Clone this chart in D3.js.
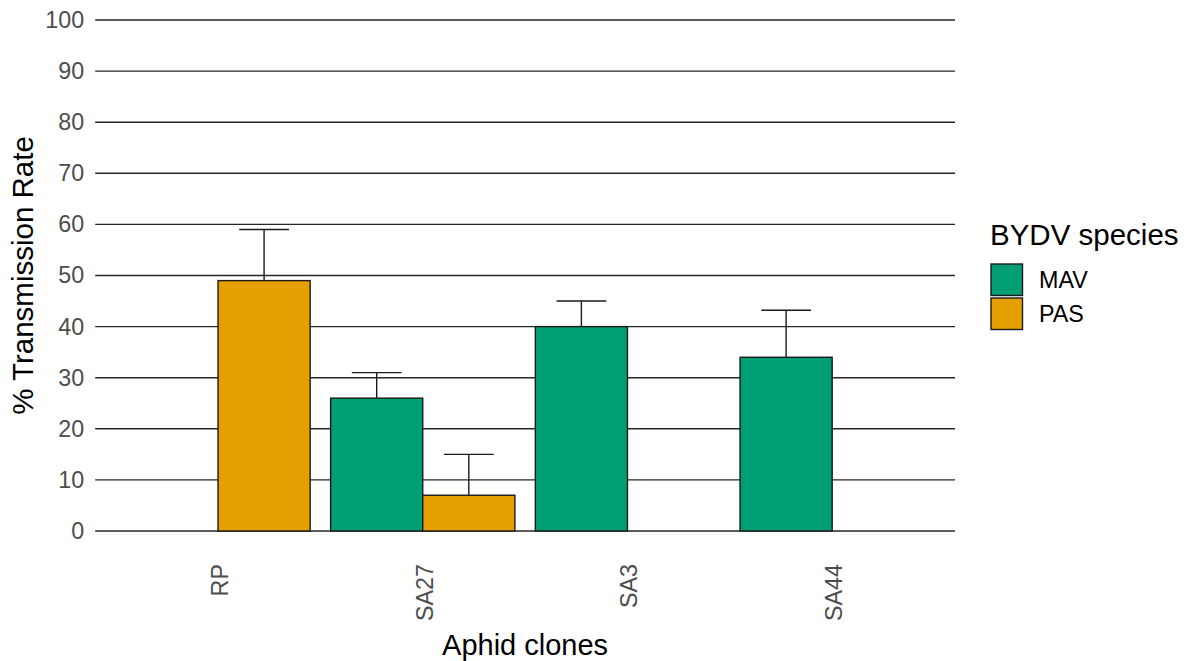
<!DOCTYPE html>
<html>
<head>
<meta charset="utf-8">
<script src="https://cdn.jsdelivr.net/npm/d3@7"></script>
<style>
  html, body { margin: 0; padding: 0; background: #ffffff; }
  svg { display: block; font-family: "Liberation Sans", Arial, sans-serif; }
</style>
</head>
<body>
<svg id="chart" width="1189" height="661"></svg>
<script>
// Aphid clones on the x axis, BYDV species as the dodged groups
const clones = ["RP", "SA27", "SA3", "SA44"];
const species = ["MAV", "PAS"];
const speciesColors = ["#009E73", "#E69F00"];

// mean transmission rate (%) and standard error per clone; null = not tested
const mavRate = [null, 26, 40, 34];
const mavSE   = [null, 5, 5, 9.2];
const pasRate = [49, 7, null, null];
const pasSE   = [10, 8, null, null];

const yTicks = [0, 10, 20, 30, 40, 50, 60, 70, 80, 90, 100];

const rows = [];
clones.forEach((c, i) => {
  if (mavRate[i] != null) rows.push({ clone: c, species: "MAV", rate: mavRate[i], se: mavSE[i] });
  if (pasRate[i] != null) rows.push({ clone: c, species: "PAS", rate: pasRate[i], se: pasSE[i] });
});

const svg = d3.select("#chart");
const panel = { left: 95.2, right: 955, top: 20, bottom: 531 };

const x = d3.scaleBand()
  .domain(clones)
  .range([panel.left, panel.right])
  .paddingInner(0.1)
  .paddingOuter(0.15);

const xSub = d3.scaleBand()
  .domain(species)
  .range([0, x.bandwidth()]);

const y = d3.scaleLinear()
  .domain([0, 100])
  .range([panel.bottom, panel.top]);

const color = d3.scaleOrdinal().domain(species).range(speciesColors);

// horizontal grid lines
svg.append("g")
  .selectAll("line")
  .data(yTicks)
  .join("line")
  .attr("x1", panel.left)
  .attr("x2", panel.right)
  .attr("y1", d => y(d))
  .attr("y2", d => y(d))
  .attr("stroke", "#262626")
  .attr("stroke-width", 1.4);

// y axis labels
const yAxis = d3.axisLeft(y).tickValues(yTicks).tickSize(0).tickPadding(11);
const gy = svg.append("g")
  .attr("transform", `translate(${panel.left},0)`)
  .call(yAxis);
gy.select(".domain").remove();
gy.selectAll("text")
  .attr("fill", "#4D4D4D")
  .style("font-size", "23.3px")
  .style("font-family", "'Liberation Sans', Arial, sans-serif");

// x axis labels, rotated
const xAxis = d3.axisBottom(x).tickSize(0).tickPadding(0);
const gx = svg.append("g")
  .attr("transform", `translate(0,${panel.bottom})`)
  .call(xAxis);
gx.select(".domain").remove();
gx.selectAll("text")
  .attr("fill", "#4D4D4D")
  .style("font-size", "23.3px")
  .style("font-family", "'Liberation Sans', Arial, sans-serif")
  .attr("text-anchor", "end")
  .attr("y", 0)
  .attr("dy", "0.42em")
  .attr("transform", "translate(0,33) rotate(-90)");

// error bars (upper whisker only, drawn underneath the bars)
const capW = x.bandwidth() * 0.135;
const eb = svg.append("g")
  .selectAll("g")
  .data(rows)
  .join("g")
  .attr("transform", d => `translate(${x(d.clone) + xSub(d.species) + xSub.bandwidth() / 2},0)`);
eb.append("line")
  .attr("x1", 0).attr("x2", 0)
  .attr("y1", d => y(d.rate))
  .attr("y2", d => y(d.rate + d.se))
  .attr("stroke", "#1a1a1a")
  .attr("stroke-width", 1.4);
eb.append("line")
  .attr("x1", -capW).attr("x2", capW)
  .attr("y1", d => y(d.rate + d.se))
  .attr("y2", d => y(d.rate + d.se))
  .attr("stroke", "#1a1a1a")
  .attr("stroke-width", 1.4);

// bars
svg.append("g")
  .selectAll("rect")
  .data(rows)
  .join("rect")
  .attr("x", d => x(d.clone) + xSub(d.species))
  .attr("width", xSub.bandwidth())
  .attr("y", d => y(d.rate))
  .attr("height", d => y(0) - y(d.rate))
  .attr("fill", d => color(d.species))
  .attr("stroke", "#1a1a1a")
  .attr("stroke-width", 1.4);

// axis titles
svg.append("text")
  .attr("x", (panel.left + panel.right) / 2)
  .attr("y", 655)
  .attr("text-anchor", "middle")
  .attr("fill", "#000")
  .style("font-size", "29px")
  .text("Aphid clones");

svg.append("text")
  .attr("transform", `translate(33,${(panel.top + panel.bottom) / 2}) rotate(-90)`)
  .attr("text-anchor", "middle")
  .attr("fill", "#000")
  .style("font-size", "29.5px")
  .text("% Transmission Rate");

// legend
const legend = svg.append("g").attr("transform", "translate(990,0)");
legend.append("text")
  .attr("x", 0)
  .attr("y", 245)
  .attr("fill", "#000")
  .style("font-size", "29.5px")
  .text("BYDV species");

const keySize = 34;
const keys = legend.selectAll("g.key")
  .data(species)
  .join("g")
  .attr("class", "key")
  .attr("transform", (d, i) => `translate(0,${263 + i * keySize})`);
keys.append("rect")
  .attr("x", 1).attr("y", 1)
  .attr("width", keySize - 2.5)
  .attr("height", keySize - 2.5)
  .attr("fill", d => color(d))
  .attr("stroke", "#1a1a1a")
  .attr("stroke-width", 1.4);
keys.append("text")
  .attr("x", 49)
  .attr("y", keySize / 2)
  .attr("dy", "0.36em")
  .attr("fill", "#000")
  .style("font-size", "23.3px")
  .text(d => d);
</script>
</body>
</html>
